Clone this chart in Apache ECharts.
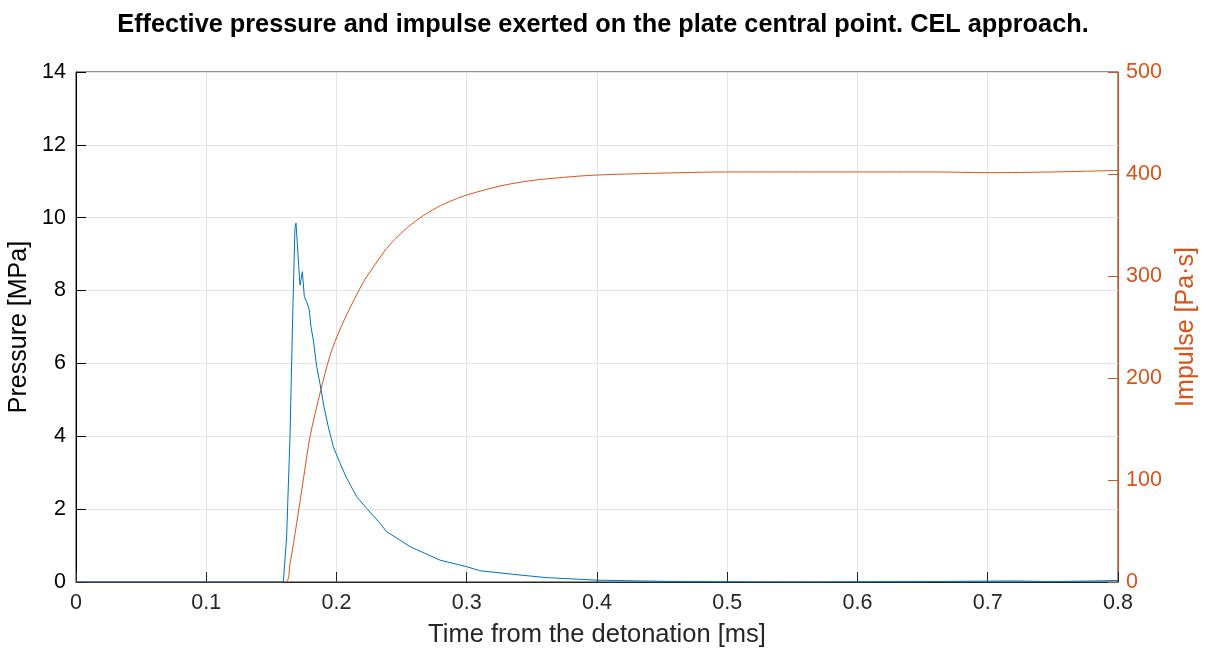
<!DOCTYPE html>
<html>
<head>
<meta charset="utf-8">
<script src="https://cdn.jsdelivr.net/npm/echarts@6/dist/echarts.min.js"></script>
<style>
  html, body { margin: 0; padding: 0; background: #fff; }
  #chart { width: 1206px; height: 652px; }
</style>
</head>
<body>
<div id="chart"></div>
<script>
// time [ms] and pressure [MPa]
const pressureTime = [0, 0.1592, 0.1617, 0.1643, 0.1663, 0.1681, 0.1689, 0.1699, 0.1712, 0.1720, 0.1738, 0.1753,
  0.1771, 0.1791, 0.1804, 0.1822, 0.1848, 0.1873, 0.1904, 0.1937, 0.1976, 0.2027, 0.2078, 0.2155, 0.2232,
  0.2334, 0.2385, 0.2488, 0.2564, 0.2795, 0.30, 0.310, 0.3357, 0.3613, 0.40, 0.4637, 0.55, 0.65, 0.72, 0.75, 0.8]
const pressureValues = [0, 0, 1.24, 3.99, 7.19, 9.71, 9.85, 9.30, 8.56, 8.15, 8.52, 7.83,
  7.69, 7.47, 7.01, 6.64, 5.91, 5.45, 4.81, 4.26, 3.71, 3.26, 2.85, 2.34, 2.02,
  1.61, 1.38, 1.15, 0.97, 0.60, 0.42, 0.31, 0.21, 0.12, 0.05, 0.01, 0.0, 0.01, 0.03, 0.01, 0.04]

// time [ms] and impulse [Pa·s]
const impulseTime = [0, 0.1605, 0.1643, 0.1694, 0.1745, 0.1797, 0.1879, 0.195, 0.2002, 0.2078, 0.2206, 0.2257,
  0.2385, 0.2513, 0.2641, 0.2769, 0.2897, 0.30, 0.3255, 0.3486, 0.3741, 0.40, 0.4637, 0.5, 0.6, 0.66, 0.7, 0.75, 0.8]
const impulseValues = [0, 0, 18, 57.5, 100, 142.5, 188, 222, 240, 262, 294, 304,
  327, 344, 357, 367, 374.5, 379.4, 388.2, 393.4, 396.7, 399, 401.3, 402, 402, 402, 401.3, 402, 403.5]

const xTicks = [0, 0.1, 0.2, 0.3, 0.4, 0.5, 0.6, 0.7, 0.8]

const BLUE = '#0072BD'
const ORANGE = '#D95319'
const AXIS = '#262626'
const FONT = '"Liberation Sans", Arial, sans-serif'

const chart = echarts.init(document.getElementById('chart'), null, { renderer: 'canvas' })

chart.setOption({
  animation: false,
  backgroundColor: '#fff',
  title: {
    text: 'Effective pressure and impulse exerted on the plate central point. CEL approach.',
    left: 'center',
    top: 8,
    textStyle: { fontFamily: FONT, fontSize: 25.3, fontWeight: 'bold', color: '#000' }
  },
  grid: {
    left: 76, right: 88, top: 72, bottom: 70,
    outerBoundsMode: 'none',
    containLabel: false,
    show: true, borderColor: AXIS, borderWidth: 1, backgroundColor: 'transparent'
  },
  xAxis: {
    type: 'value',
    min: 0, max: 0.8, interval: 0.1,
    name: 'Time from the detonation [ms]',
    nameLocation: 'middle',
    nameGap: 40,
    nameTextStyle: { fontFamily: FONT, fontSize: 25.5, color: AXIS },
    axisLine: { show: true, onZero: false, lineStyle: { color: AXIS, width: 1 } },
    axisTick: { show: true, inside: true, length: 10, lineStyle: { color: AXIS } },
    axisLabel: {
      fontFamily: FONT, fontSize: 21.5, color: AXIS, margin: 10,
      formatter: (v) => xTicks.indexOf(Math.round(v * 10) / 10) >= 0 ? String(Math.round(v * 10) / 10) : ''
    },
    splitLine: { show: true, lineStyle: { color: '#e3e3e3', width: 1 } }
  },
  yAxis: [
    {
      type: 'value',
      min: 0, max: 14, interval: 2,
      position: 'left',
      name: 'Pressure [MPa]',
      nameLocation: 'middle',
      nameGap: 40,
      nameTextStyle: { fontFamily: FONT, fontSize: 25, color: '#000' },
      axisLine: { show: true, lineStyle: { color: '#000', width: 1 } },
      axisTick: { show: true, inside: true, length: 10, lineStyle: { color: '#000' } },
      axisLabel: { fontFamily: FONT, fontSize: 21.5, color: '#000', margin: 10 },
      splitLine: { show: true, lineStyle: { color: '#e3e3e3', width: 1 } }
    },
    {
      type: 'value',
      min: 0, max: 500, interval: 100,
      position: 'right',
      name: 'Impulse [Pa·s]',
      nameLocation: 'middle',
      nameGap: 56,
      nameRotate: 90,
      nameTextStyle: { fontFamily: FONT, fontSize: 25, color: ORANGE },
      axisLine: { show: true, lineStyle: { color: ORANGE, width: 1 } },
      axisTick: { show: true, inside: true, length: 10, lineStyle: { color: ORANGE } },
      axisLabel: { fontFamily: FONT, fontSize: 21.5, color: ORANGE, margin: 8 },
      splitLine: { show: false }
    }
  ],
  series: [
    {
      name: 'Pressure',
      type: 'line',
      yAxisIndex: 0,
      data: pressureTime.map((t, i) => [t, pressureValues[i]]),
      showSymbol: false,
      smooth: false,
      lineStyle: { color: BLUE, width: 1 },
      itemStyle: { color: BLUE },
      z: 3
    },
    {
      name: 'Impulse',
      type: 'line',
      yAxisIndex: 1,
      data: impulseTime.map((t, i) => [t, impulseValues[i]]),
      showSymbol: false,
      smooth: 0.3,
      lineStyle: { color: ORANGE, width: 1 },
      itemStyle: { color: ORANGE },
      z: 2
    }
  ]
})
</script>
</body>
</html>
